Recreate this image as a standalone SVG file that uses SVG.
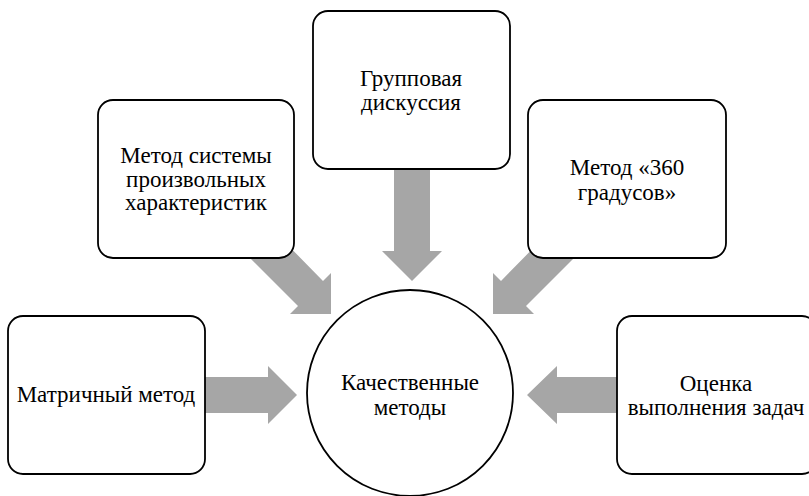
<svg xmlns="http://www.w3.org/2000/svg" width="809" height="496" viewBox="0 0 809 496">
<rect width="809" height="496" fill="#fff"/>
<g id="connectors" fill="#a6a6a6">
<polygon points="205,377 268,377 268,366 297,395 268,424 268,413 205,413"/>
<polygon points="617,377 557,377 557,366 527,395 557,424 557,413 617,413"/>
<polygon points="394,160 430,160 430,251 442,251 412,281 382,251 394,251"/>
<polygon points="275,232 323,281 331,273 331,314 290,314 298,306 250,258"/>
<polygon points="549,232 501,281 493,273 493,314 534,314 526,306 574,258"/>
</g>
<g fill="#fff" stroke="#000" stroke-width="1.8">
<rect id="box-matrix" x="8" y="316" width="197" height="158" rx="15"/>
<rect id="box-arbitrary" x="98" y="100" width="196" height="158" rx="15"/>
<rect id="box-group" x="313" y="11" width="197" height="158" rx="15"/>
<rect id="box-360" x="528" y="100" width="198" height="158" rx="15"/>
<rect id="box-tasks" x="617" y="316" width="200" height="158" rx="15"/>
<circle id="box-center" cx="410" cy="393" r="103"/>
</g>
<g font-family="'Times New Roman', 'Liberation Serif', serif" font-size="23" text-anchor="middle">
<g id="node-matrix">
<text x="106" y="402">Матричный метод</text>
</g>
<g id="node-arbitrary">
<text x="196" y="163">Метод системы</text>
<text x="196" y="187">произвольных</text>
<text x="196" y="210">характеристик</text>
</g>
<g id="node-group">
<text x="411" y="86">Групповая</text>
<text x="411" y="110">дискуссия</text>
</g>
<g id="node-360">
<text x="627" y="175">Метод «360</text>
<text x="627" y="200">градусов»</text>
</g>
<g id="node-tasks">
<text x="716" y="391">Оценка</text>
<text x="716" y="415">выполнения задач</text>
</g>
<g id="node-center">
<text x="410" y="390">Качественные</text>
<text x="410" y="415">методы</text>
</g>
</g>
</svg>
